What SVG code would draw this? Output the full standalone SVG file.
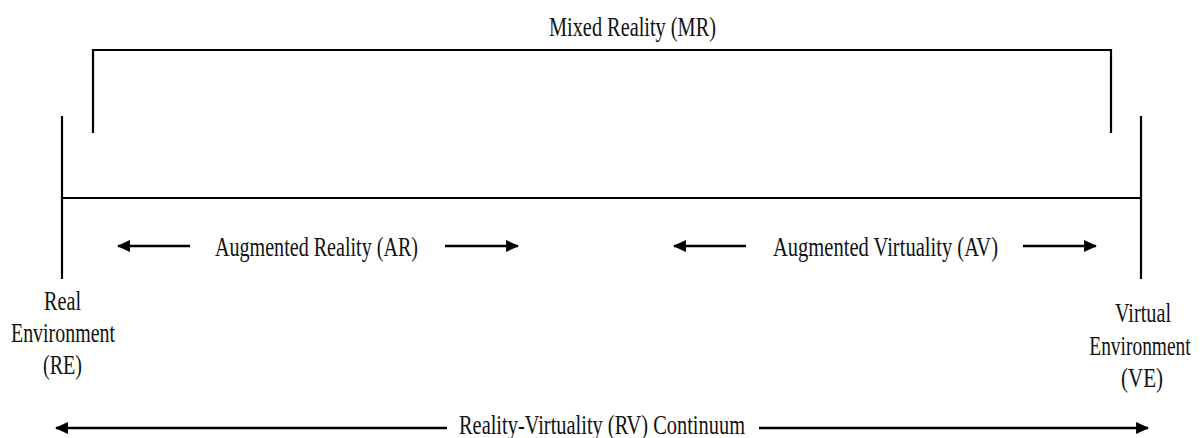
<svg xmlns="http://www.w3.org/2000/svg" width="1202" height="438" viewBox="0 0 1202 438">
<style>
.ln{stroke:#000;stroke-width:2.2;fill:none}
.ar{stroke:#000;stroke-width:2.6;fill:none}
.t{font-family:"Liberation Serif","Times New Roman",serif;font-size:27px;fill:#111;text-anchor:middle}
</style>
<defs>
<marker id="ah" viewBox="0 0 12 12" refX="11" refY="6" markerWidth="5" markerHeight="5" markerUnits="strokeWidth" orient="auto-start-reverse">
<path d="M0,0.5 L12,6 L0,11.5 Z" fill="#000"/>
</marker>
</defs>
<rect width="1202" height="438" fill="#fff"/>
<g id="connectors">
<path class="ln" d="M93,133 V50 H1111 V133"/>
<line class="ln" x1="62" y1="116" x2="62" y2="279"/>
<line class="ln" x1="1141" y1="116" x2="1141" y2="279"/>
<line class="ln" x1="62" y1="198" x2="1141" y2="198"/>
<line class="ar" x1="190" y1="246" x2="118" y2="246" marker-end="url(#ah)"/>
<line class="ar" x1="445" y1="246" x2="518" y2="246" marker-end="url(#ah)"/>
<line class="ar" x1="746" y1="246" x2="674" y2="246" marker-end="url(#ah)"/>
<line class="ar" x1="1023" y1="246" x2="1096" y2="246" marker-end="url(#ah)"/>
<line class="ar" x1="447" y1="428" x2="56" y2="428" marker-end="url(#ah)"/>
<line class="ar" x1="759" y1="428" x2="1148" y2="428" marker-end="url(#ah)"/>
</g>
<g id="mr"><text class="t" x="632.5" y="36" textLength="167" lengthAdjust="spacingAndGlyphs">Mixed Reality (MR)</text></g>
<g id="ar"><text class="t" x="316.5" y="256" textLength="203" lengthAdjust="spacingAndGlyphs">Augmented Reality (AR)</text></g>
<g id="av"><text class="t" x="885.5" y="256" textLength="225" lengthAdjust="spacingAndGlyphs">Augmented Virtuality (AV)</text></g>
<g id="re">
<text class="t" x="62.5" y="310" textLength="37" lengthAdjust="spacingAndGlyphs">Real</text>
<text class="t" x="63" y="342" textLength="104" lengthAdjust="spacingAndGlyphs">Environment</text>
<text class="t" x="62.5" y="374" textLength="39" lengthAdjust="spacingAndGlyphs">(RE)</text>
</g>
<g id="ve">
<text class="t" x="1143" y="322" textLength="56" lengthAdjust="spacingAndGlyphs">Virtual</text>
<text class="t" transform="translate(1140,355) scale(0.72,1)" x="0" y="0">Environment</text>
<text class="t" x="1142" y="387" textLength="42" lengthAdjust="spacingAndGlyphs">(VE)</text>
</g>
<g id="rv"><text class="t" x="602" y="434" textLength="286" lengthAdjust="spacingAndGlyphs">Reality-Virtuality (RV) Continuum</text></g>
</svg>
